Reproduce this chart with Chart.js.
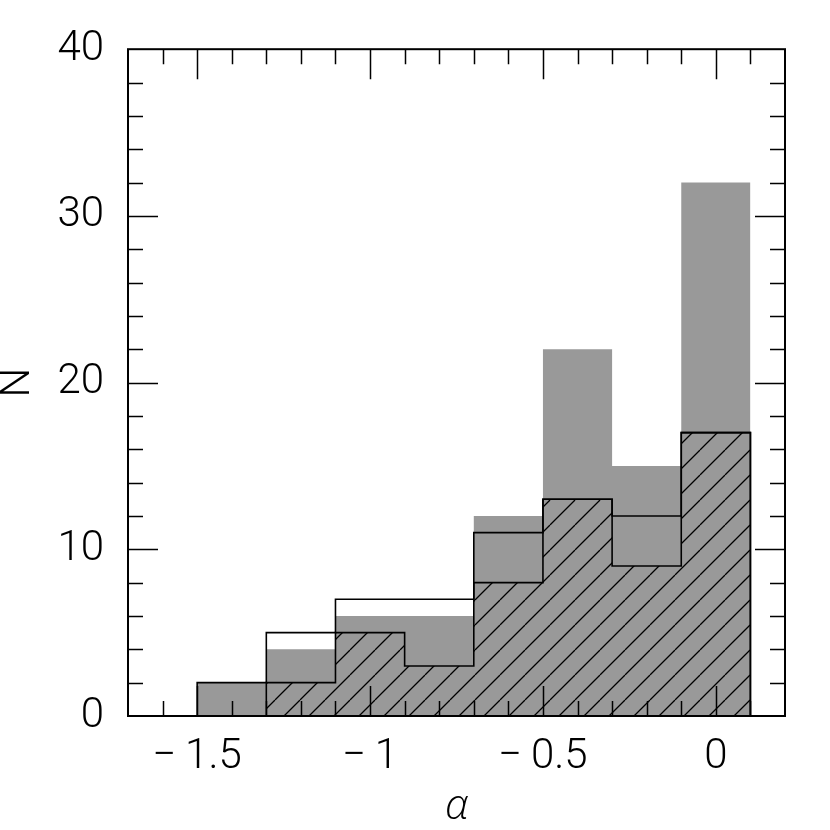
<!DOCTYPE html>
<html>
<head>
<meta charset="utf-8">
<script src="https://cdn.jsdelivr.net/npm/chart.js@4.4.0/dist/chart.umd.min.js"></script>
<style>
html, body { margin: 0; padding: 0; background: #fff; }
#c { display: block; }
</style>
</head>
<body>
<canvas id="c" width="830" height="830"></canvas>
<script>
// ---- data ----
const binCenters = [-1.4, -1.2, -1.0, -0.8, -0.6, -0.4, -0.2, 0.0];
const binWidth = 0.2;
const allCounts = [2, 4, 6, 6, 12, 22, 15, 32];      // grey filled histogram
const openCounts = [2, 5, 7, 7, 11, 13, 12, 17];     // open outline histogram
const hatchedCounts = [0, 2, 5, 3, 8, 13, 9, 17];    // hatched histogram
const xTickValues = [-1.5, -1, -0.5, 0];
const yTickValues = [0, 10, 20, 30, 40];
const xMinorStep = 0.1;
const yMinorStep = 2;
const xRange = [-1.7, 0.2];
const yRange = [0, 40];
const xTitle = 'α';
const yTitle = 'N';

// ---- build step outlines from bins ----
function stepPoints(counts) {
  const pts = [{ x: binCenters[0] - binWidth / 2, y: 0 }];
  counts.forEach((c, i) => pts.push({ x: binCenters[i] - binWidth / 2, y: c }));
  pts.push({ x: binCenters[binCenters.length - 1] + binWidth / 2, y: 0 });
  return pts;
}

const canvas = document.getElementById('c');
const ctx2d = canvas.getContext('2d');

// hatch pattern "/"
function makeHatch() {
  const s = 25;
  const t = document.createElement('canvas');
  t.width = s; t.height = s;
  const c = t.getContext('2d');
  c.strokeStyle = '#000';
  c.lineWidth = 1.3;
  c.beginPath();
  for (let k = -1; k <= 1; k++) {
    c.moveTo(k * s, s);
    c.lineTo(k * s + s, 0);
  }
  c.stroke();
  return ctx2d.createPattern(t, 'repeat');
}
const hatch = makeHatch();

const FONT = 'Roboto, "Liberation Sans", sans-serif';
const TITLE_FONT = '"Open Sans", "DejaVu Sans", sans-serif';

const framePlugin = {
  id: 'frameTicks',
  afterDatasetsDraw(chart) {
    const { ctx, chartArea: a, scales: { x, y } } = chart;
    ctx.save();
    ctx.strokeStyle = '#000';
    ctx.lineWidth = 1.5;
    ctx.beginPath();
    const nx = Math.round((xRange[1] - xRange[0]) / xMinorStep);
    for (let i = 1; i < nx; i++) {
      const v = Math.round((xRange[0] + i * xMinorStep) * 10) / 10;
      const major = xTickValues.some(t => Math.abs(t - v) < 1e-6);
      const len = major ? 30 : 15;
      const px = Math.round(x.getPixelForValue(v)) + 0.5;
      ctx.moveTo(px, a.bottom); ctx.lineTo(px, a.bottom - len);
      ctx.moveTo(px, a.top); ctx.lineTo(px, a.top + len);
    }
    const ny = Math.round((yRange[1] - yRange[0]) / yMinorStep);
    for (let i = 1; i < ny; i++) {
      const v = yRange[0] + i * yMinorStep;
      const major = yTickValues.includes(v);
      const len = major ? 30 : 15;
      const py = Math.round(y.getPixelForValue(v)) + 0.5;
      ctx.moveTo(a.left, py); ctx.lineTo(a.left + len, py);
      ctx.moveTo(a.right, py); ctx.lineTo(a.right - len, py);
    }
    ctx.stroke();
    ctx.lineWidth = 2;
    ctx.strokeRect(a.left, a.top, a.right - a.left, a.bottom - a.top);
    ctx.restore();
  }
};

new Chart(canvas, {
  type: 'line',
  data: {
    datasets: [
      {
        label: 'all',
        data: stepPoints(allCounts),
        stepped: true,
        borderWidth: 0,
        borderColor: 'rgba(0,0,0,0)',
        backgroundColor: '#999999',
        fill: 'origin',
        pointRadius: 0,
        order: 3
      },
      {
        label: 'hatched',
        data: stepPoints(hatchedCounts),
        stepped: true,
        borderWidth: 1.6,
        borderColor: '#000',
        backgroundColor: hatch,
        fill: 'origin',
        pointRadius: 0,
        order: 2
      },
      {
        label: 'open',
        data: stepPoints(openCounts),
        stepped: true,
        borderWidth: 1.6,
        borderColor: '#000',
        fill: false,
        pointRadius: 0,
        order: 1
      }
    ]
  },
  options: {
    responsive: false,
    animation: false,
    devicePixelRatio: 1,
    layout: { padding: { left: 0, right: 45, top: 46, bottom: 0 } },
    plugins: { legend: { display: false }, tooltip: { enabled: false } },
    scales: {
      x: {
        type: 'linear',
        min: xRange[0], max: xRange[1],
        afterBuildTicks(s) { s.ticks = xTickValues.map(v => ({ value: v })); },
        afterFit(s) { s.height = 114; },
        grid: { display: false, drawTicks: false },
        border: { display: false },
        ticks: {
          padding: 16,
          color: '#000',
          font: { family: FONT, size: 42, weight: 300, lineHeight: 1.2 },
          maxRotation: 0,
          autoSkip: false,
          callback: (v) => (v < 0 ? '\u2212\u2009' + String(Math.abs(v)) : String(v))
        },
        title: {
          display: true, text: xTitle, color: '#000',
          font: { family: TITLE_FONT, size: 42, weight: 300, style: 'italic', lineHeight: 1 },
          padding: { top: 0, bottom: 2 }
        }
      },
      y: {
        type: 'linear',
        min: yRange[0], max: yRange[1],
        afterBuildTicks(s) { s.ticks = yTickValues.map(v => ({ value: v })); },
        afterFit(s) { s.width = 128; },
        grid: { display: false, drawTicks: false },
        border: { display: false },
        ticks: {
          padding: 24,
          color: '#000',
          font: { family: FONT, size: 42, weight: 300, lineHeight: 1.2 },
          callback: (v) => String(v)
        },
        title: {
          display: true, text: yTitle, color: '#000',
          font: { family: FONT, size: 42, weight: 300, lineHeight: 0.86 },
          padding: { top: 0, bottom: 0 }
        }
      }
    }
  },
  plugins: [framePlugin]
});
</script>
</body>
</html>
